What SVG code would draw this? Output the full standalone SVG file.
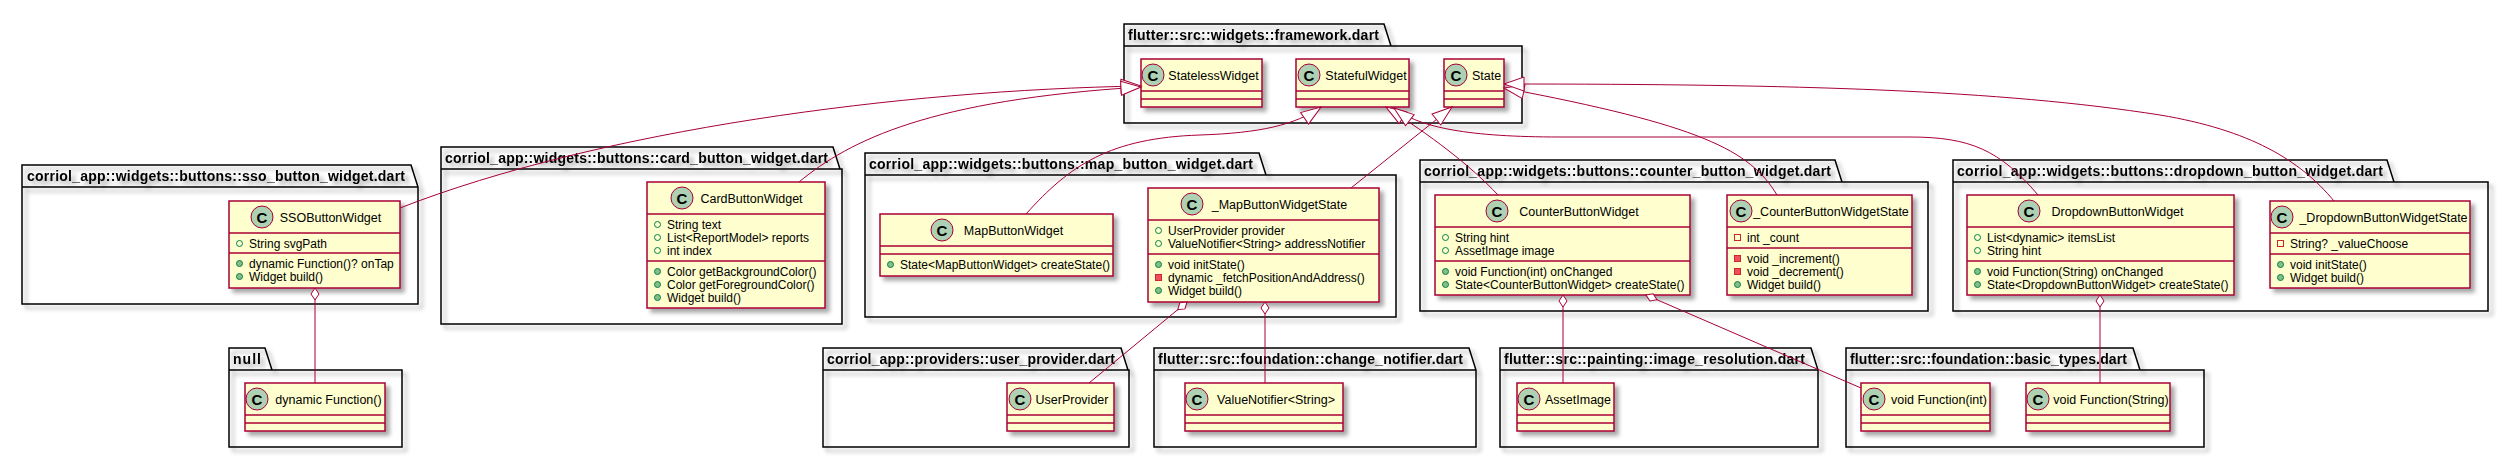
<svg xmlns="http://www.w3.org/2000/svg" xmlns:xlink="http://www.w3.org/1999/xlink" width="2508" height="458" viewBox="0 0 2508 458">
<style>
.pk{fill:none;stroke:#000;stroke-width:1.5}
.pl{font-family:"Liberation Sans",Arial,sans-serif;font-weight:bold;font-size:14px;fill:#000}
.cl{fill:#FEFECE;stroke:#A80036;stroke-width:1.5}
.sp{stroke:#A80036;stroke-width:1.5}
.ci{fill:#ADD1B2;stroke:#A80036;stroke-width:1}
.cg{font-family:"Liberation Sans",Arial,sans-serif;font-weight:bold;font-size:15px;fill:#000;text-anchor:middle}
.nm{font-family:"Liberation Sans",Arial,sans-serif;font-size:12.5px;fill:#000;text-anchor:middle}
.mb{font-family:"Liberation Sans",Arial,sans-serif;font-size:12px;fill:#000}
.ln{fill:none;stroke:#A80036;stroke-width:1}
.e{marker-end:url(#tri)}
.a{marker-start:url(#dia)}
</style>
<defs>
<filter id="sh" x="-10%" y="-10%" width="125%" height="140%">
<feGaussianBlur in="SourceAlpha" stdDeviation="2"/>
<feOffset dx="4" dy="4"/>
<feComponentTransfer><feFuncA type="linear" slope="0.35"/></feComponentTransfer>
<feMerge><feMergeNode/><feMergeNode in="SourceGraphic"/></feMerge>
</filter>
<marker id="tri" markerUnits="userSpaceOnUse" markerWidth="22" markerHeight="16" refX="20" refY="7" orient="auto" overflow="visible"><path d="M0,0 L20,7 L0,14 Z" fill="#FFFFFF" stroke="#A80036" stroke-width="1"/></marker>
<marker id="dia" markerUnits="userSpaceOnUse" markerWidth="14" markerHeight="10" refX="0" refY="4" orient="auto" overflow="visible"><path d="M0,4 L6,0 L12,4 L6,8 Z" fill="#FFFFFF" stroke="#A80036" stroke-width="1"/></marker>
<circle id="pf" r="3" fill="none" stroke="#038048" stroke-width="1"/>
<circle id="pm" r="3" fill="#84BE84" stroke="#038048" stroke-width="1"/>
<rect id="vf" x="-3" y="-3" width="6" height="6" fill="none" stroke="#C82930" stroke-width="1"/>
<rect id="vm" x="-3" y="-3" width="6" height="6" fill="#F24D5C" stroke="#C82930" stroke-width="1"/>
</defs>
<rect x="0" y="0" width="2508" height="458" fill="#FFFFFF"/>

<!-- packages -->
<g id="pkg-framework" filter="url(#sh)">
<path class="pk" d="M1124,46 L1124,24 L1384,24 L1391,46 L1522,46 L1522,123 L1124,123 Z M1124,46 L1391,46"/>
<text class="pl" x="1128" y="40" textLength="251">flutter::src::widgets::framework.dart</text>
</g>
<g id="pkg-sso" filter="url(#sh)">
<path class="pk" d="M22,187 L22,165 L411,165 L418,187 L418,304 L22,304 Z M22,187 L418,187"/>
<text class="pl" x="27" y="181" textLength="378">corriol_app::widgets::buttons::sso_button_widget.dart</text>
</g>
<g id="pkg-card" filter="url(#sh)">
<path class="pk" d="M441,169 L441,147 L833,147 L840,169 L842,169 L842,324 L441,324 Z M441,169 L840,169"/>
<text class="pl" x="445" y="163" textLength="383">corriol_app::widgets::buttons::card_button_widget.dart</text>
</g>
<g id="pkg-map" filter="url(#sh)">
<path class="pk" d="M865,175 L865,153 L1259,153 L1266,175 L1396,175 L1396,317 L865,317 Z M865,175 L1266,175"/>
<text class="pl" x="869" y="169" textLength="384">corriol_app::widgets::buttons::map_button_widget.dart</text>
</g>
<g id="pkg-counter" filter="url(#sh)">
<path class="pk" d="M1420,182 L1420,160 L1835,160 L1842,182 L1928,182 L1928,311 L1420,311 Z M1420,182 L1842,182"/>
<text class="pl" x="1424" y="176" textLength="407">corriol_app::widgets::buttons::counter_button_widget.dart</text>
</g>
<g id="pkg-dropdown" filter="url(#sh)">
<path class="pk" d="M1953,182 L1953,160 L2387,160 L2394,182 L2488,182 L2488,311 L1953,311 Z M1953,182 L2394,182"/>
<text class="pl" x="1957" y="176" textLength="426">corriol_app::widgets::buttons::dropdown_button_widget.dart</text>
</g>
<g id="pkg-null" filter="url(#sh)">
<path class="pk" d="M229,370 L229,348 L265,348 L272,370 L402,370 L402,447 L229,447 Z M229,370 L272,370"/>
<text class="pl" x="233" y="364" textLength="28">null</text>
</g>
<g id="pkg-user-provider" filter="url(#sh)">
<path class="pk" d="M823,370 L823,348 L1121,348 L1128,370 L1129,370 L1129,447 L823,447 Z M823,370 L1128,370"/>
<text class="pl" x="827" y="364" textLength="288">corriol_app::providers::user_provider.dart</text>
</g>
<g id="pkg-change-notifier" filter="url(#sh)">
<path class="pk" d="M1154,370 L1154,348 L1469,348 L1476,370 L1476,447 L1154,447 Z M1154,370 L1476,370"/>
<text class="pl" x="1158" y="364" textLength="305">flutter::src::foundation::change_notifier.dart</text>
</g>
<g id="pkg-image-resolution" filter="url(#sh)">
<path class="pk" d="M1500,370 L1500,348 L1811,348 L1818,370 L1818,447 L1500,447 Z M1500,370 L1818,370"/>
<text class="pl" x="1504" y="364" textLength="301">flutter::src::painting::image_resolution.dart</text>
</g>
<g id="pkg-basic-types" filter="url(#sh)">
<path class="pk" d="M1846,370 L1846,348 L2133,348 L2140,370 L2204,370 L2204,447 L1846,447 Z M1846,370 L2140,370"/>
<text class="pl" x="1850" y="364" textLength="277">flutter::src::foundation::basic_types.dart</text>
</g>

<!-- classes -->
<g id="StatelessWidget">
<rect class="cl" x="1141" y="59" width="121" height="48" filter="url(#sh)"/>
<circle class="ci" cx="1153" cy="75" r="11"/><text class="cg" x="1153" y="80.5">C</text>
<text class="nm" x="1213.5" y="79.5">StatelessWidget</text>
<line class="sp" x1="1141" y1="91" x2="1262" y2="91"/><line class="sp" x1="1141" y1="99" x2="1262" y2="99"/>
</g>
<g id="StatefulWidget">
<rect class="cl" x="1296" y="59" width="113" height="48" filter="url(#sh)"/>
<circle class="ci" cx="1309" cy="75" r="11"/><text class="cg" x="1309" y="80.5">C</text>
<text class="nm" x="1366" y="79.5">StatefulWidget</text>
<line class="sp" x1="1296" y1="91" x2="1409" y2="91"/><line class="sp" x1="1296" y1="99" x2="1409" y2="99"/>
</g>
<g id="State">
<rect class="cl" x="1444" y="59" width="60" height="48" filter="url(#sh)"/>
<circle class="ci" cx="1456" cy="75" r="11"/><text class="cg" x="1456" y="80.5">C</text>
<text class="nm" x="1486.5" y="79.5">State</text>
<line class="sp" x1="1444" y1="91" x2="1504" y2="91"/><line class="sp" x1="1444" y1="99" x2="1504" y2="99"/>
</g>

<g id="SSOButtonWidget">
<rect class="cl" x="229" y="201" width="171" height="87" filter="url(#sh)"/>
<circle class="ci" cx="262" cy="217" r="11"/><text class="cg" x="262" y="222.5">C</text>
<text class="nm" x="330.5" y="221.5">SSOButtonWidget</text>
<line class="sp" x1="229" y1="233" x2="400" y2="233"/><line class="sp" x1="229" y1="253" x2="400" y2="253"/>
<use href="#pf" x="239.5" y="243.5"/><text class="mb" x="249" y="247.5">String svgPath</text>
<use href="#pm" x="239.5" y="263.5"/><text class="mb" x="249" y="267.5">dynamic Function()? onTap</text>
<use href="#pm" x="239.5" y="276.5"/><text class="mb" x="249" y="280.5">Widget build()</text>
</g>

<g id="CardButtonWidget">
<rect class="cl" x="647" y="182" width="178" height="126" filter="url(#sh)"/>
<circle class="ci" cx="682" cy="198" r="11"/><text class="cg" x="682" y="203.5">C</text>
<text class="nm" x="751.5" y="202.5">CardButtonWidget</text>
<line class="sp" x1="647" y1="214" x2="825" y2="214"/><line class="sp" x1="647" y1="261" x2="825" y2="261"/>
<use href="#pf" x="657.5" y="224.5"/><text class="mb" x="667" y="228.5">String text</text>
<use href="#pf" x="657.5" y="237.5"/><text class="mb" x="667" y="241.5">List&lt;ReportModel&gt; reports</text>
<use href="#pf" x="657.5" y="250.5"/><text class="mb" x="667" y="254.5">int index</text>
<use href="#pm" x="657.5" y="271.5"/><text class="mb" x="667" y="275.5">Color getBackgroundColor()</text>
<use href="#pm" x="657.5" y="284.5"/><text class="mb" x="667" y="288.5">Color getForegroundColor()</text>
<use href="#pm" x="657.5" y="297.5"/><text class="mb" x="667" y="301.5">Widget build()</text>
</g>

<g id="MapButtonWidget">
<rect class="cl" x="880" y="214" width="233" height="62" filter="url(#sh)"/>
<circle class="ci" cx="942" cy="230" r="11"/><text class="cg" x="942" y="235.5">C</text>
<text class="nm" x="1013.5" y="234.5">MapButtonWidget</text>
<line class="sp" x1="880" y1="246" x2="1113" y2="246"/><line class="sp" x1="880" y1="254" x2="1113" y2="254"/>
<use href="#pm" x="890.5" y="264.5"/><text class="mb" x="900" y="268.5">State&lt;MapButtonWidget&gt; createState()</text>
</g>

<g id="_MapButtonWidgetState">
<rect class="cl" x="1148" y="188" width="231" height="114" filter="url(#sh)"/>
<circle class="ci" cx="1192" cy="204" r="11"/><text class="cg" x="1192" y="209.5">C</text>
<text class="nm" x="1279.5" y="208.5">_MapButtonWidgetState</text>
<line class="sp" x1="1148" y1="220" x2="1379" y2="220"/><line class="sp" x1="1148" y1="254" x2="1379" y2="254"/>
<use href="#pf" x="1158.5" y="230.5"/><text class="mb" x="1168" y="234.5">UserProvider provider</text>
<use href="#pf" x="1158.5" y="243.5"/><text class="mb" x="1168" y="247.5">ValueNotifier&lt;String&gt; addressNotifier</text>
<use href="#pm" x="1158.5" y="264.5"/><text class="mb" x="1168" y="268.5">void initState()</text>
<use href="#vm" x="1158.5" y="277.5"/><text class="mb" x="1168" y="281.5">dynamic _fetchPositionAndAddress()</text>
<use href="#pm" x="1158.5" y="290.5"/><text class="mb" x="1168" y="294.5">Widget build()</text>
</g>

<g id="CounterButtonWidget">
<rect class="cl" x="1435" y="195" width="255" height="100" filter="url(#sh)"/>
<circle class="ci" cx="1497" cy="211" r="11"/><text class="cg" x="1497" y="216.5">C</text>
<text class="nm" x="1579" y="215.5">CounterButtonWidget</text>
<line class="sp" x1="1435" y1="227" x2="1690" y2="227"/><line class="sp" x1="1435" y1="261" x2="1690" y2="261"/>
<use href="#pf" x="1445.5" y="237.5"/><text class="mb" x="1455" y="241.5">String hint</text>
<use href="#pf" x="1445.5" y="250.5"/><text class="mb" x="1455" y="254.5">AssetImage image</text>
<use href="#pm" x="1445.5" y="271.5"/><text class="mb" x="1455" y="275.5">void Function(int) onChanged</text>
<use href="#pm" x="1445.5" y="284.5"/><text class="mb" x="1455" y="288.5">State&lt;CounterButtonWidget&gt; createState()</text>
</g>

<g id="_CounterButtonWidgetState">
<rect class="cl" x="1727" y="195" width="185" height="100" filter="url(#sh)"/>
<circle class="ci" cx="1741" cy="211" r="11"/><text class="cg" x="1741" y="216.5">C</text>
<text class="nm" x="1831" y="215.5">_CounterButtonWidgetState</text>
<line class="sp" x1="1727" y1="227" x2="1912" y2="227"/><line class="sp" x1="1727" y1="248" x2="1912" y2="248"/>
<use href="#vf" x="1737.5" y="237.5"/><text class="mb" x="1747" y="241.5">int _count</text>
<use href="#vm" x="1737.5" y="258.5"/><text class="mb" x="1747" y="262.5">void _increment()</text>
<use href="#vm" x="1737.5" y="271.5"/><text class="mb" x="1747" y="275.5">void _decrement()</text>
<use href="#pm" x="1737.5" y="284.5"/><text class="mb" x="1747" y="288.5">Widget build()</text>
</g>

<g id="DropdownButtonWidget">
<rect class="cl" x="1967" y="195" width="267" height="100" filter="url(#sh)"/>
<circle class="ci" cx="2029" cy="211" r="11"/><text class="cg" x="2029" y="216.5">C</text>
<text class="nm" x="2117.5" y="215.5">DropdownButtonWidget</text>
<line class="sp" x1="1967" y1="227" x2="2234" y2="227"/><line class="sp" x1="1967" y1="261" x2="2234" y2="261"/>
<use href="#pf" x="1977.5" y="237.5"/><text class="mb" x="1987" y="241.5">List&lt;dynamic&gt; itemsList</text>
<use href="#pf" x="1977.5" y="250.5"/><text class="mb" x="1987" y="254.5">String hint</text>
<use href="#pm" x="1977.5" y="271.5"/><text class="mb" x="1987" y="275.5">void Function(String) onChanged</text>
<use href="#pm" x="1977.5" y="284.5"/><text class="mb" x="1987" y="288.5">State&lt;DropdownButtonWidget&gt; createState()</text>
</g>

<g id="_DropdownButtonWidgetState">
<rect class="cl" x="2270" y="201" width="200" height="87" filter="url(#sh)"/>
<circle class="ci" cx="2282" cy="217" r="11"/><text class="cg" x="2282" y="222.5">C</text>
<text class="nm" x="2383.5" y="221.5">_DropdownButtonWidgetState</text>
<line class="sp" x1="2270" y1="233" x2="2470" y2="233"/><line class="sp" x1="2270" y1="254" x2="2470" y2="254"/>
<use href="#vf" x="2280.5" y="243.5"/><text class="mb" x="2290" y="247.5">String? _valueChoose</text>
<use href="#pm" x="2280.5" y="264.5"/><text class="mb" x="2290" y="268.5">void initState()</text>
<use href="#pm" x="2280.5" y="277.5"/><text class="mb" x="2290" y="281.5">Widget build()</text>
</g>

<g id="DynamicFunction">
<rect class="cl" x="245" y="383" width="140" height="48" filter="url(#sh)"/>
<circle class="ci" cx="257" cy="399" r="11"/><text class="cg" x="257" y="404.5">C</text>
<text class="nm" x="328.5" y="403.5">dynamic Function()</text>
<line class="sp" x1="245" y1="415" x2="385" y2="415"/><line class="sp" x1="245" y1="423" x2="385" y2="423"/>
</g>
<g id="UserProvider">
<rect class="cl" x="1007" y="383" width="107" height="48" filter="url(#sh)"/>
<circle class="ci" cx="1020" cy="399" r="11"/><text class="cg" x="1020" y="404.5">C</text>
<text class="nm" x="1072" y="403.5">UserProvider</text>
<line class="sp" x1="1007" y1="415" x2="1114" y2="415"/><line class="sp" x1="1007" y1="423" x2="1114" y2="423"/>
</g>
<g id="ValueNotifierString">
<rect class="cl" x="1185" y="383" width="158" height="48" filter="url(#sh)"/>
<circle class="ci" cx="1197" cy="399" r="11"/><text class="cg" x="1197" y="404.5">C</text>
<text class="nm" x="1276" y="403.5">ValueNotifier&lt;String&gt;</text>
<line class="sp" x1="1185" y1="415" x2="1343" y2="415"/><line class="sp" x1="1185" y1="423" x2="1343" y2="423"/>
</g>
<g id="AssetImage">
<rect class="cl" x="1517" y="383" width="97" height="48" filter="url(#sh)"/>
<circle class="ci" cx="1529" cy="399" r="11"/><text class="cg" x="1529" y="404.5">C</text>
<text class="nm" x="1578" y="403.5">AssetImage</text>
<line class="sp" x1="1517" y1="415" x2="1614" y2="415"/><line class="sp" x1="1517" y1="423" x2="1614" y2="423"/>
</g>
<g id="VoidFunctionInt">
<rect class="cl" x="1861" y="383" width="129" height="48" filter="url(#sh)"/>
<circle class="ci" cx="1874" cy="399" r="11"/><text class="cg" x="1874" y="404.5">C</text>
<text class="nm" x="1939" y="403.5">void Function(int)</text>
<line class="sp" x1="1861" y1="415" x2="1990" y2="415"/><line class="sp" x1="1861" y1="423" x2="1990" y2="423"/>
</g>
<g id="VoidFunctionString">
<rect class="cl" x="2026" y="383" width="144" height="48" filter="url(#sh)"/>
<circle class="ci" cx="2038" cy="399" r="11"/><text class="cg" x="2038" y="404.5">C</text>
<text class="nm" x="2111" y="403.5">void Function(String)</text>
<line class="sp" x1="2026" y1="415" x2="2170" y2="415"/><line class="sp" x1="2026" y1="423" x2="2170" y2="423"/>
</g>

<!-- connectors -->
<g id="connectors">
<path class="ln e" d="M400,208 C600,130 900,90 1141,86"/>
<path class="ln e" d="M799,182 C850,140 930,100 1141,87"/>
<path class="ln e" d="M1026,214 C1070,165 1110,138 1200,135 C1260,133 1295,125 1321,107"/>
<path class="ln e" d="M1498,195 C1470,165 1430,135 1386,107"/>
<path class="ln e" d="M2038,195 C2000,150 1970,137 1910,137 L1560,137 C1470,137 1420,128 1394,108"/>
<path class="ln e" d="M1351,188 L1452,107"/>
<path class="ln e" d="M1777,195 C1750,150 1700,125 1504,88"/>
<path class="ln e" d="M2334,201 C2300,160 2250,130 2160,115 C2000,90 1800,84 1504,84"/>
<path class="ln a" d="M315,288 L315,383"/>
<path class="ln a" d="M1187,302 L1089,383"/>
<path class="ln a" d="M1265,302 L1265,383"/>
<path class="ln a" d="M1563,295 L1563,383"/>
<path class="ln a" d="M1646,295 L1861,388"/>
<path class="ln a" d="M2100,295 L2100,383"/>
</g>
</svg>
